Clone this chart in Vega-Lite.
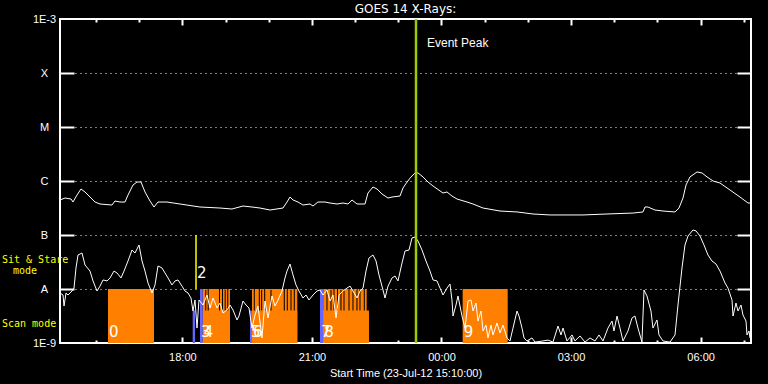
{
  "$schema": "https://vega.github.io/schema/vega-lite/v6.json",
  "width": 691,
  "height": 324,
  "autosize": {"type": "none"},
  "padding": {"left": 60, "top": 19, "right": 17, "bottom": 41},
  "background": "black",
  "config": {
    "view": {"stroke": "white", "strokeWidth": 2, "fill": "black"},
    "axis": {"labelColor": "white", "tickColor": "white", "domain": false, "gridColor": "white", "titleColor": "white", "labelFont": "Liberation Sans", "titleFont": "Liberation Sans", "labelFontSize": 11, "titleFontSize": 11, "titleFontWeight": "normal", "tickWidth": 2, "minExtent": 0, "zindex": 1}
  },
  "title": {"text": "GOES 14 X-Rays:", "color": "white", "font": "DejaVu Sans", "fontSize": 12, "fontWeight": "normal", "anchor": "middle", "baseline": "alphabetic", "offset": 1, "dy": 12.5},
  "datasets": {
    "long": [
      {"t":15.167,"flux":4.45e-7},{"t":15.283,"flux":4.84e-7},{"t":15.422,"flux":4.64e-7},{"t":15.468,"flux":4.08e-7},{"t":15.561,"flux":5.50e-7},{"t":15.653,"flux":7.11e-7},{"t":15.746,"flux":6.26e-7},{"t":15.862,"flux":5.05e-7},{"t":15.977,"flux":4.08e-7},{"t":16.093,"flux":3.75e-7},{"t":16.371,"flux":3.59e-7},{"t":16.440,"flux":4.26e-7},{"t":16.556,"flux":4.08e-7},{"t":16.672,"flux":4.08e-7},{"t":16.741,"flux":5.50e-7},{"t":16.857,"flux":8.43e-7},{"t":16.950,"flux":9.58e-7},{"t":17.042,"flux":9.58e-7},{"t":17.135,"flux":6.26e-7},{"t":17.251,"flux":4.26e-7},{"t":17.343,"flux":3.30e-7},{"t":17.436,"flux":4.08e-7},{"t":17.644,"flux":4.08e-7},{"t":17.945,"flux":3.75e-7},{"t":18.408,"flux":3.30e-7},{"t":18.871,"flux":3.16e-7},{"t":19.149,"flux":3.03e-7},{"t":19.404,"flux":3.44e-7},{"t":19.612,"flux":3.30e-7},{"t":19.798,"flux":3.16e-7},{"t":20.029,"flux":2.90e-7},{"t":20.330,"flux":3.16e-7},{"t":20.423,"flux":4.08e-7},{"t":20.492,"flux":5.05e-7},{"t":20.562,"flux":4.45e-7},{"t":20.677,"flux":4.08e-7},{"t":20.793,"flux":3.59e-7},{"t":20.955,"flux":3.75e-7},{"t":21.025,"flux":3.44e-7},{"t":21.140,"flux":4.08e-7},{"t":21.303,"flux":4.08e-7},{"t":21.419,"flux":3.91e-7},{"t":21.581,"flux":3.75e-7},{"t":21.720,"flux":3.91e-7},{"t":21.835,"flux":3.75e-7},{"t":21.928,"flux":4.45e-7},{"t":22.044,"flux":3.75e-7},{"t":22.229,"flux":3.75e-7},{"t":22.298,"flux":5.99e-7},{"t":22.414,"flux":7.74e-7},{"t":22.507,"flux":7.11e-7},{"t":22.623,"flux":5.74e-7},{"t":22.762,"flux":4.84e-7},{"t":22.854,"flux":5.05e-7},{"t":23.040,"flux":5.27e-7},{"t":23.109,"flux":7.42e-7},{"t":23.155,"flux":8.43e-7},{"t":23.271,"flux":1.13e-6},{"t":23.387,"flux":1.41e-6},{"t":23.456,"flux":1.41e-6},{"t":23.572,"flux":1.19e-6},{"t":23.688,"flux":9.58e-7},{"t":23.804,"flux":8.08e-7},{"t":24.035,"flux":5.99e-7},{"t":24.128,"flux":6.26e-7},{"t":24.243,"flux":5.27e-7},{"t":24.359,"flux":4.64e-7},{"t":24.591,"flux":4.08e-7},{"t":24.730,"flux":3.75e-7},{"t":24.961,"flux":3.16e-7},{"t":25.355,"flux":2.78e-7},{"t":25.749,"flux":2.67e-7},{"t":26.119,"flux":2.45e-7},{"t":26.513,"flux":2.35e-7},{"t":27.277,"flux":2.35e-7},{"t":27.833,"flux":2.45e-7},{"t":28.434,"flux":2.55e-7},{"t":28.666,"flux":2.67e-7},{"t":28.712,"flux":3.30e-7},{"t":28.781,"flux":3.30e-7},{"t":28.943,"flux":2.90e-7},{"t":29.129,"flux":2.78e-7},{"t":29.407,"flux":2.67e-7},{"t":29.499,"flux":3.16e-7},{"t":29.592,"flux":4.84e-7},{"t":29.662,"flux":8.43e-7},{"t":29.754,"flux":1.19e-6},{"t":29.916,"flux":1.47e-6},{"t":30.032,"flux":1.41e-6},{"t":30.148,"flux":1.19e-6},{"t":30.287,"flux":1.00e-6},{"t":30.449,"flux":9.18e-7},{"t":30.680,"flux":6.81e-7},{"t":30.912,"flux":5.05e-7},{"t":31.097,"flux":3.91e-7},{"t":31.144,"flux":3.91e-7}
    ],
    "short": [
      {"t":15.167,"flux":8.43e-9},{"t":15.236,"flux":7.74e-9},{"t":15.260,"flux":4.84e-9},{"t":15.306,"flux":8.43e-9},{"t":15.352,"flux":7.74e-9},{"t":15.445,"flux":9.18e-9},{"t":15.491,"flux":1.04e-8},{"t":15.537,"flux":2.45e-8},{"t":15.584,"flux":4.26e-8},{"t":15.676,"flux":4.64e-8},{"t":15.746,"flux":2.78e-8},{"t":15.862,"flux":2.15e-8},{"t":15.931,"flux":1.41e-8},{"t":16.024,"flux":9.18e-9},{"t":16.093,"flux":1.13e-8},{"t":16.163,"flux":1.47e-8},{"t":16.255,"flux":1.41e-8},{"t":16.325,"flux":1.60e-8},{"t":16.417,"flux":2.15e-8},{"t":16.487,"flux":1.98e-8},{"t":16.579,"flux":1.60e-8},{"t":16.649,"flux":2.15e-8},{"t":16.741,"flux":3.30e-8},{"t":16.834,"flux":5.27e-8},{"t":16.903,"flux":4.64e-8},{"t":16.996,"flux":6.53e-8},{"t":17.066,"flux":3.30e-8},{"t":17.135,"flux":2.15e-8},{"t":17.205,"flux":1.29e-8},{"t":17.297,"flux":8.43e-9},{"t":17.367,"flux":1.19e-8},{"t":17.436,"flux":2.67e-8},{"t":17.529,"flux":2.45e-8},{"t":17.598,"flux":1.98e-8},{"t":17.668,"flux":1.60e-8},{"t":17.760,"flux":1.19e-8},{"t":17.830,"flux":1.41e-8},{"t":17.899,"flux":1.47e-8},{"t":17.992,"flux":1.13e-8},{"t":18.061,"flux":9.18e-9},{"t":18.131,"flux":8.43e-9},{"t":18.200,"flux":6.81e-9},{"t":18.246,"flux":3.91e-9},{"t":18.293,"flux":6.26e-9},{"t":18.339,"flux":1.89e-9},{"t":18.385,"flux":6.26e-9},{"t":18.478,"flux":5.05e-9},{"t":18.570,"flux":7.74e-9},{"t":18.640,"flux":4.45e-9},{"t":18.709,"flux":6.81e-9},{"t":18.802,"flux":4.45e-9},{"t":18.871,"flux":5.50e-9},{"t":18.941,"flux":3.59e-9},{"t":19.034,"flux":4.08e-9},{"t":19.103,"flux":5.05e-9},{"t":19.173,"flux":4.08e-9},{"t":19.265,"flux":2.67e-9},{"t":19.311,"flux":3.16e-9},{"t":19.404,"flux":5.99e-9},{"t":19.474,"flux":5.05e-9},{"t":19.543,"flux":4.45e-9},{"t":19.612,"flux":1.89e-9},{"t":19.682,"flux":3.30e-9},{"t":19.751,"flux":4.84e-9},{"t":19.844,"flux":1.24e-9},{"t":19.913,"flux":5.99e-9},{"t":19.983,"flux":2.90e-9},{"t":20.076,"flux":7.42e-9},{"t":20.145,"flux":4.84e-9},{"t":20.215,"flux":6.26e-9},{"t":20.307,"flux":9.18e-9},{"t":20.376,"flux":1.60e-8},{"t":20.423,"flux":2.15e-8},{"t":20.492,"flux":2.90e-8},{"t":20.562,"flux":1.82e-8},{"t":20.631,"flux":1.19e-8},{"t":20.700,"flux":9.18e-9},{"t":20.793,"flux":6.81e-9},{"t":20.863,"flux":7.74e-9},{"t":20.932,"flux":6.26e-9},{"t":21.025,"flux":7.74e-9},{"t":21.118,"flux":9.18e-9},{"t":21.187,"flux":9.58e-9},{"t":21.256,"flux":7.74e-9},{"t":21.349,"flux":9.58e-9},{"t":21.419,"flux":5.99e-9},{"t":21.488,"flux":7.74e-9},{"t":21.558,"flux":2.90e-9},{"t":21.627,"flux":7.74e-9},{"t":21.720,"flux":9.18e-9},{"t":21.812,"flux":1.04e-8},{"t":21.882,"flux":1.13e-8},{"t":21.951,"flux":9.18e-9},{"t":22.044,"flux":6.81e-9},{"t":22.113,"flux":9.18e-9},{"t":22.183,"flux":1.04e-8},{"t":22.252,"flux":2.15e-8},{"t":22.321,"flux":3.75e-8},{"t":22.414,"flux":4.26e-8},{"t":22.484,"flux":3.30e-8},{"t":22.553,"flux":1.82e-8},{"t":22.646,"flux":9.58e-9},{"t":22.692,"flux":6.81e-9},{"t":22.762,"flux":1.13e-8},{"t":22.854,"flux":1.60e-8},{"t":22.924,"flux":1.74e-8},{"t":22.993,"flux":1.41e-8},{"t":23.086,"flux":3.03e-8},{"t":23.155,"flux":5.05e-8},{"t":23.248,"flux":5.27e-8},{"t":23.317,"flux":8.80e-8},{"t":23.387,"flux":9.18e-8},{"t":23.456,"flux":7.74e-8},{"t":23.549,"flux":5.27e-8},{"t":23.641,"flux":3.30e-8},{"t":23.734,"flux":2.15e-8},{"t":23.804,"flux":1.47e-8},{"t":23.896,"flux":1.41e-8},{"t":23.966,"flux":1.04e-8},{"t":24.035,"flux":7.74e-9},{"t":24.128,"flux":1.04e-8},{"t":24.197,"flux":1.24e-8},{"t":24.243,"flux":6.26e-9},{"t":24.267,"flux":3.16e-9},{"t":24.336,"flux":5.05e-9},{"t":24.382,"flux":7.42e-9},{"t":24.475,"flux":3.16e-9},{"t":24.545,"flux":1.89e-9},{"t":24.614,"flux":5.99e-9},{"t":24.684,"flux":6.26e-9},{"t":24.730,"flux":3.91e-9},{"t":24.799,"flux":5.50e-9},{"t":24.845,"flux":2.55e-9},{"t":24.915,"flux":3.91e-9},{"t":24.961,"flux":1.67e-9},{"t":25.031,"flux":2.15e-9},{"t":25.077,"flux":1.24e-9},{"t":25.146,"flux":2.15e-9},{"t":25.193,"flux":1.41e-9},{"t":25.285,"flux":2.35e-9},{"t":25.355,"flux":1.53e-9},{"t":25.424,"flux":2.15e-9},{"t":25.517,"flux":1.24e-9},{"t":25.586,"flux":1.09e-9},{"t":25.656,"flux":1.89e-9},{"t":25.749,"flux":3.91e-9},{"t":25.795,"flux":3.16e-9},{"t":25.864,"flux":1.89e-9},{"t":25.911,"flux":1.24e-9},{"t":25.980,"flux":1.09e-9},{"t":26.096,"flux":1.24e-9},{"t":26.165,"flux":1.04e-9},{"t":26.350,"flux":1.09e-9},{"t":26.466,"flux":1.13e-9},{"t":26.582,"flux":1.04e-9},{"t":26.698,"flux":2.06e-9},{"t":26.767,"flux":1.41e-9},{"t":26.814,"flux":1.89e-9},{"t":26.906,"flux":1.09e-9},{"t":27.022,"flux":1.41e-9},{"t":27.091,"flux":1.09e-9},{"t":27.207,"flux":1.35e-9},{"t":27.323,"flux":1.04e-9},{"t":27.439,"flux":1.24e-9},{"t":27.554,"flux":1.09e-9},{"t":27.647,"flux":1.41e-9},{"t":27.740,"flux":1.09e-9},{"t":27.855,"flux":1.89e-9},{"t":27.948,"flux":2.55e-9},{"t":27.994,"flux":1.67e-9},{"t":28.064,"flux":3.16e-9},{"t":28.133,"flux":1.89e-9},{"t":28.203,"flux":1.09e-9},{"t":28.318,"flux":1.67e-9},{"t":28.411,"flux":2.90e-9},{"t":28.480,"flux":3.16e-9},{"t":28.550,"flux":1.89e-9},{"t":28.642,"flux":1.04e-9},{"t":28.689,"flux":9.58e-9},{"t":28.758,"flux":7.42e-9},{"t":28.851,"flux":3.91e-9},{"t":28.897,"flux":1.89e-9},{"t":28.990,"flux":2.67e-9},{"t":29.036,"flux":1.41e-9},{"t":29.129,"flux":1.09e-9},{"t":29.291,"flux":1.04e-9},{"t":29.407,"flux":1.41e-9},{"t":29.476,"flux":5.05e-9},{"t":29.569,"flux":2.45e-8},{"t":29.638,"flux":6.53e-8},{"t":29.708,"flux":9.58e-8},{"t":29.824,"flux":1.24e-7},{"t":29.893,"flux":1.19e-7},{"t":29.986,"flux":9.58e-8},{"t":30.078,"flux":6.53e-8},{"t":30.171,"flux":4.26e-8},{"t":30.264,"flux":3.30e-8},{"t":30.356,"flux":2.90e-8},{"t":30.449,"flux":2.15e-8},{"t":30.565,"flux":1.29e-8},{"t":30.634,"flux":1.04e-8},{"t":30.727,"flux":6.26e-9},{"t":30.750,"flux":3.16e-9},{"t":30.819,"flux":5.50e-9},{"t":30.866,"flux":3.91e-9},{"t":30.935,"flux":5.05e-9},{"t":30.981,"flux":3.30e-9},{"t":31.051,"flux":2.55e-9},{"t":31.074,"flux":1.41e-9},{"t":31.120,"flux":1.67e-9},{"t":31.144,"flux":1.24e-9}
    ],
    "obs": [
      {"start":16.278,"end":17.343,"top":1e-8,"kind":"obs"},
      {"start":18.471,"end":19.103,"top":4e-9,"kind":"obs"},
      {"start":18.471,"end":18.531,"top":1e-8,"kind":"obs"},
      {"start":18.554,"end":18.587,"top":1e-8,"kind":"obs"},
      {"start":18.610,"end":18.848,"top":1e-8,"kind":"obs"},
      {"start":18.871,"end":18.918,"top":1e-8,"kind":"obs"},
      {"start":18.941,"end":18.980,"top":1e-8,"kind":"obs"},
      {"start":19.003,"end":19.040,"top":1e-8,"kind":"obs"},
      {"start":19.063,"end":19.103,"top":1e-8,"kind":"obs"},
      {"start":18.239,"end":18.292,"top":4e-9,"kind":"cal"},
      {"start":18.408,"end":18.471,"top":1e-8,"kind":"cal"},
      {"start":19.566,"end":19.612,"top":4e-9,"kind":"cal"},
      {"start":21.187,"end":21.263,"top":1e-8,"kind":"cal"},
      {"start":19.612,"end":20.661,"top":4e-9,"kind":"obs"},
      {"start":19.612,"end":19.654,"top":1e-8,"kind":"obs"},
      {"start":19.677,"end":19.770,"top":1e-8,"kind":"obs"},
      {"start":19.793,"end":19.825,"top":1e-8,"kind":"obs"},
      {"start":19.848,"end":19.894,"top":1e-8,"kind":"obs"},
      {"start":19.918,"end":20.040,"top":1e-8,"kind":"obs"},
      {"start":20.064,"end":20.348,"top":1e-8,"kind":"obs"},
      {"start":20.372,"end":20.418,"top":1e-8,"kind":"obs"},
      {"start":20.441,"end":20.504,"top":1e-8,"kind":"obs"},
      {"start":20.527,"end":20.580,"top":1e-8,"kind":"obs"},
      {"start":20.603,"end":20.661,"top":1e-8,"kind":"obs"},
      {"start":21.263,"end":22.321,"top":4e-9,"kind":"obs"},
      {"start":21.263,"end":21.337,"top":1e-8,"kind":"obs"},
      {"start":21.360,"end":21.430,"top":1e-8,"kind":"obs"},
      {"start":21.453,"end":21.499,"top":1e-8,"kind":"obs"},
      {"start":21.522,"end":21.580,"top":1e-8,"kind":"obs"},
      {"start":21.603,"end":21.661,"top":1e-8,"kind":"obs"},
      {"start":21.684,"end":21.731,"top":1e-8,"kind":"obs"},
      {"start":21.754,"end":21.847,"top":1e-8,"kind":"obs"},
      {"start":21.870,"end":21.939,"top":1e-8,"kind":"obs"},
      {"start":21.962,"end":22.031,"top":1e-8,"kind":"obs"},
      {"start":22.055,"end":22.101,"top":1e-8,"kind":"obs"},
      {"start":22.124,"end":22.201,"top":1e-8,"kind":"obs"},
      {"start":22.224,"end":22.268,"top":1e-8,"kind":"obs"},
      {"start":24.490,"end":25.533,"top":1e-8,"kind":"obs"}
    ],
    "ids": [
      {"t":16.278,"id":"0"},{"t":18.408,"id":"3"},{"t":18.471,"id":"4"},{"t":19.566,"id":"5"},{"t":19.612,"id":"6"},{"t":21.187,"id":"7"},{"t":21.263,"id":"8"},{"t":24.490,"id":"9"}
    ]
  },
  "layer": [
    {
      "data": {"name": "obs"},
      "mark": {"type": "rect", "clip": true},
      "encoding": {
        "x": {"field": "start", "type": "quantitative", "scale": {"domain": [15.1667, 31.1667], "nice": false, "zero": false},
          "axis": {"orient": "bottom", "values": [18, 21, 24, 27, 30], "labelExpr": "(datum.value % 24 < 10 ? '0' : '') + (datum.value % 24) + ':00'", "ticks": false, "labelPadding": 8, "grid": false, "title": "Start Time (23-Jul-12 15:10:00)", "titlePadding": 5, "zindex": 0}},
        "x2": {"field": "end"},
        "y": {"field": "top", "type": "quantitative", "scale": {"type": "log", "domain": [1e-9, 1e-3], "nice": false},
          "axis": {"orient": "left", "values": [1e-9, 1e-8, 1e-7, 1e-6, 1e-5, 1e-4, 1e-3], "labelExpr": "['1E-9','A','B','C','M','X','1E-3'][round(log(datum.value)/LN10)+9]", "ticks": false, "labelAlign": "center", "labelBaseline": "middle", "labelPadding": 16, "grid": true, "gridDash": [1, 4], "gridWidth": 1, "title": null, "zindex": 0}},
        "y2": {"datum": 1e-9},
        "color": {"field": "kind", "type": "nominal", "scale": {"domain": ["obs", "cal"], "range": ["#ff8000", "#6464ff"]}, "legend": null}
      }
    },
    {
      "data": {"name": "short"},
      "mark": {"type": "line", "color": "white", "strokeWidth": 1, "clip": true},
      "encoding": {
        "x": {"field": "t", "type": "quantitative", "scale": {"domain": [15.1667, 31.1667], "nice": false, "zero": false},
          "axis": {"orient": "bottom", "values": [18, 21, 24, 27, 30], "labels": false, "ticks": true, "tickSize": 6, "offset": -6, "grid": false, "title": null}},
        "y": {"field": "flux", "type": "quantitative", "scale": {"type": "log", "domain": [1e-9, 1e-3], "nice": false},
          "axis": {"orient": "left", "values": [1e-8, 1e-7, 1e-6, 1e-5, 1e-4], "labels": false, "ticks": true, "tickSize": 14, "offset": -14, "grid": false, "title": null}}
      }
    },
    {
      "data": {"name": "long"},
      "mark": {"type": "line", "color": "white", "strokeWidth": 1, "clip": true},
      "encoding": {
        "x": {"field": "t", "type": "quantitative", "scale": {"domain": [15.1667, 31.1667], "nice": false, "zero": false},
          "axis": {"orient": "top", "values": [18, 21, 24, 27, 30], "labels": false, "ticks": true, "tickSize": 6, "offset": -6, "grid": false, "title": null}},
        "y": {"field": "flux", "type": "quantitative", "scale": {"type": "log", "domain": [1e-9, 1e-3], "nice": false},
          "axis": {"orient": "right", "values": [1e-8, 1e-7, 1e-6, 1e-5, 1e-4], "labels": false, "ticks": true, "tickSize": 14, "offset": -14, "grid": false, "title": null}}
      }
    },
    {
      "data": {"values": [{"t": 18.316, "low": 1e-8, "high": 1e-7}]},
      "mark": {"type": "rule", "color": "#ffff00", "strokeWidth": 1.5},
      "encoding": {
        "x": {"field": "t", "type": "quantitative", "scale": {"domain": [15.1667, 31.1667], "nice": false, "zero": false},
          "axis": {"orient": "bottom", "values": [16, 17, 19, 20, 22, 23, 25, 26, 28, 29, 31], "labels": false, "ticks": true, "tickSize": 3, "offset": -3, "grid": false, "title": null}},
        "y": {"field": "low", "type": "quantitative", "axis": null},
        "y2": {"field": "high"}
      }
    },
    {
      "data": {"values": [{"t": 23.41}]},
      "mark": {"type": "rule", "color": "#9ccc00", "strokeWidth": 2.5},
      "encoding": {
        "x": {"field": "t", "type": "quantitative", "scale": {"domain": [15.1667, 31.1667], "nice": false, "zero": false},
          "axis": {"orient": "top", "values": [16, 17, 19, 20, 22, 23, 25, 26, 28, 29, 31], "labels": false, "ticks": true, "tickSize": 3, "offset": -3, "grid": false, "title": null}},
        "y": {"datum": 1e-9, "axis": null},
        "y2": {"datum": 1e-3}
      }
    },
    {
      "data": {"values": [{"t": 23.41, "label": "Event Peak"}]},
      "mark": {"type": "text", "color": "white", "font": "Liberation Sans", "fontSize": 12, "align": "left", "baseline": "middle", "dx": 11},
      "encoding": {
        "x": {"field": "t", "type": "quantitative", "axis": null},
        "y": {"datum": 3.6e-4, "axis": null},
        "text": {"field": "label"}
      }
    },
    {
      "data": {"name": "ids"},
      "mark": {"type": "text", "color": "white", "font": "DejaVu Sans", "fontSize": 15, "align": "left", "baseline": "middle", "dx": 1},
      "encoding": {
        "x": {"field": "t", "type": "quantitative", "axis": null},
        "y": {"datum": 1.6e-9, "axis": null},
        "text": {"field": "id"}
      }
    },
    {
      "data": {"values": [{"t": 18.316, "id": "2"}]},
      "mark": {"type": "text", "color": "white", "font": "DejaVu Sans", "fontSize": 15, "align": "left", "baseline": "middle", "dx": 1},
      "encoding": {
        "x": {"field": "t", "type": "quantitative", "axis": null},
        "y": {"datum": 2.0e-8, "axis": null},
        "text": {"field": "id"}
      }
    },
    {
      "data": {"values": [{"t": 15.1667, "label": "Sit & Stare"}]},
      "mark": {"type": "text", "color": "#ffff00", "font": "DejaVu Sans Mono", "fontSize": 10, "align": "left", "baseline": "middle", "dx": -58},
      "encoding": {
        "x": {"field": "t", "type": "quantitative", "axis": null},
        "y": {"datum": 3.44e-8, "axis": null},
        "text": {"field": "label"}
      }
    },
    {
      "data": {"values": [{"t": 15.1667, "label": "mode"}]},
      "mark": {"type": "text", "color": "#ffff00", "font": "DejaVu Sans Mono", "fontSize": 10, "align": "left", "baseline": "middle", "dx": -47},
      "encoding": {
        "x": {"field": "t", "type": "quantitative", "axis": null},
        "y": {"datum": 2.15e-8, "axis": null},
        "text": {"field": "label"}
      }
    },
    {
      "data": {"values": [{"t": 15.1667, "label": "Scan mode"}]},
      "mark": {"type": "text", "color": "#ffff00", "font": "DejaVu Sans Mono", "fontSize": 10, "align": "left", "baseline": "middle", "dx": -58},
      "encoding": {
        "x": {"field": "t", "type": "quantitative", "axis": null},
        "y": {"datum": 2.25e-9, "axis": null},
        "text": {"field": "label"}
      }
    }
  ],
  "resolve": {"axis": {"x": "independent", "y": "independent"}}
}
